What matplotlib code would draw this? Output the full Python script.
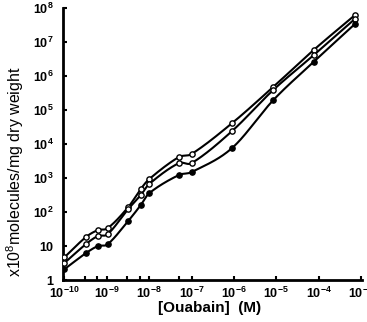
import numpy as np
import matplotlib
matplotlib.use("Agg")
import matplotlib.pyplot as plt

# Data (molar ouabain concentration, x10^8 molecules/mg dry weight)
conc = [1e-10, 3.2e-10, 6.1e-10, 1.05e-9, 3.2e-9, 6.3e-9, 1.0e-8, 5e-8, 1.0e-7,
        9e-7, 8.5e-6, 7.6e-5, 7.2e-4]
upper = [4.7, 18.4, 29.5, 33.8, 140, 475, 935, 4150, 5100, 4.1e4, 4.8e5, 5.8e6, 6.2e7]
middle = [3.2, 11.4, 19.7, 22.5, 123, 316, 670, 2750, 2750, 2.4e4, 3.9e5, 4.1e6, 4.8e7]
lower = [2.1, 6.2, 10.0, 11.4, 55, 160, 360, 1230, 1500, 7600, 1.96e5, 2.6e6, 3.4e7]

xtick_exps = [-10, -9, -8, -7, -6, -5, -4, -3]
ytick_exps = [0, 1, 2, 3, 4, 5, 6, 7, 8]
minor_xticks = [3e-10, 6e-10, 3e-9, 6e-9, 5e-8]

plt.rcParams['font.family'] = ['Liberation Sans', 'DejaVu Sans']
plt.rcParams['mathtext.fontset'] = 'custom'
plt.rcParams['mathtext.rm'] = 'Liberation Sans:bold'
plt.rcParams['mathtext.bf'] = 'Liberation Sans:bold'
plt.rcParams['mathtext.it'] = 'Liberation Sans:bold'


def catmull(x, y, xs):
    x = np.asarray(x, float); y = np.asarray(y, float)
    n = len(x); h = np.diff(x)
    m = np.zeros(n)
    for k in range(1, n - 1):
        m[k] = (y[k + 1] - y[k - 1]) / (x[k + 1] - x[k - 1])
    m[0] = (y[1] - y[0]) / h[0]; m[-1] = (y[-1] - y[-2]) / h[-1]
    idx = np.clip(np.searchsorted(x, xs) - 1, 0, n - 2)
    t = (xs - x[idx]) / h[idx]
    h00 = 2 * t**3 - 3 * t**2 + 1; h10 = t**3 - 2 * t**2 + t
    h01 = -2 * t**3 + 3 * t**2; h11 = t**3 - t**2
    return h00 * y[idx] + h10 * h[idx] * m[idx] + h01 * y[idx + 1] + h11 * h[idx] * m[idx + 1]


fig = plt.figure(figsize=(3.67, 3.22), dpi=100)
ax = fig.add_axes([0.172, 0.130, 0.814, 0.845])

lx = np.log10(conc)
xs = np.linspace(lx[0], lx[-1], 800)
for ser, filled in [(upper, False), (middle, False), (lower, True)]:
    ys = catmull(lx, np.log10(ser), xs)
    ax.plot(10**xs, 10**ys, color='black', lw=1.5, zorder=2)
    ax.plot(conc, ser, 'o', ms=3.8, mec='black', mew=1.0,
            mfc='black' if filled else 'white', zorder=3)

ax.set_xscale('log'); ax.set_yscale('log')
ax.set_xlim(0.93e-10, 1.05e-3)
ax.set_ylim(1, 1e8)

for s in ['top', 'right']:
    ax.spines[s].set_visible(False)
for s in ['left', 'bottom']:
    ax.spines[s].set_linewidth(2.0)

ax.set_xticks([10.0**e for e in xtick_exps])
ax.set_xticklabels([r'$\mathbf{10^{%d}}$' % e for e in xtick_exps], fontsize=9)
ax.set_xticks(minor_xticks, minor=True)
ax.set_xticklabels([], minor=True)
ax.set_yticks([10.0**e for e in ytick_exps])
ylabs = ['1', '10'] + [r'$\mathbf{10^{%d}}$' % e for e in ytick_exps[2:]]
ax.set_yticklabels(ylabs, fontsize=9, fontweight='bold')
ax.yaxis.set_minor_locator(matplotlib.ticker.NullLocator())
ax.tick_params(axis='both', which='both', direction='in', width=1.5, length=3)
ax.tick_params(axis='x', which='major', pad=4)
ax.tick_params(axis='y', which='major', pad=7)

fig.text(0.042, 1 - 172 / 322, r'x10$^{\mathregular{8}}$molecules/mg dry weight',
         rotation=90, ha='center', va='center', fontsize=11.5)
fig.text(210 / 367, 1 - 308 / 322, '[Ouabain]  (M)', ha='center', va='center',
         fontsize=11, fontweight='bold')

fig.savefig('out.png', dpi=100)
